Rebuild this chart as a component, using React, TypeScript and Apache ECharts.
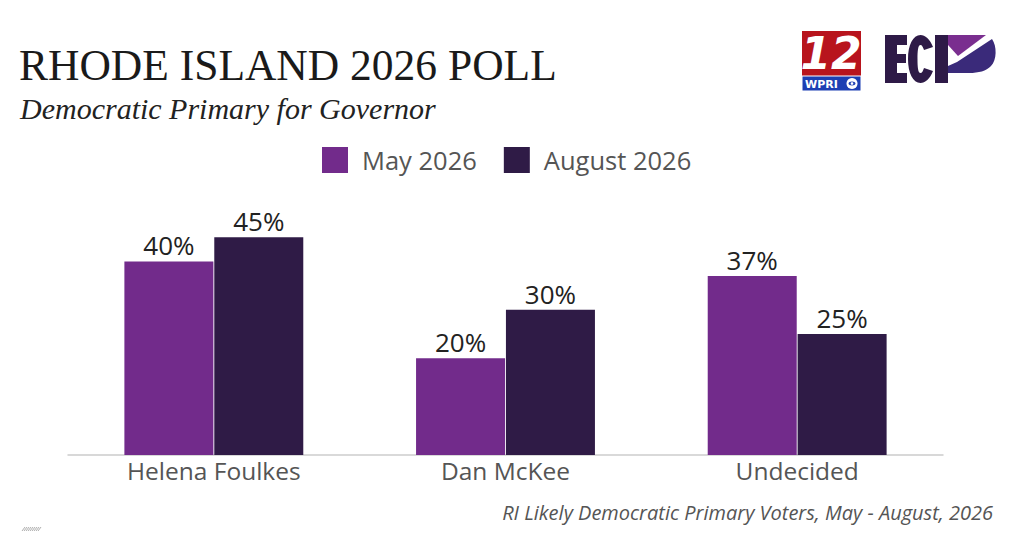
import React, { useEffect, useRef } from "react";
import * as echarts from "echarts";

const categories = ["Helena Foulkes", "Dan McKee", "Undecided"];
const seriesNames = ["May 2026", "August 2026"];
const mayValues = [40, 20, 37];
const augustValues = [45, 30, 25];
const seriesColors = ["#722b8b", "#2f1b46"];

const titleText = "RHODE ISLAND 2026 POLL";
const subtitleText = "Democratic Primary for Governor";
const footnoteText = "RI Likely Democratic Primary Voters, May - August, 2026";

const SANS = "'Open Sans', Lato, 'Noto Sans', sans-serif";
const SERIF = "'Liberation Serif', 'DejaVu Serif', serif";

let registered = false;
function registerShapes() {
  if (registered) return;
  registered = true;
  echarts.graphic.registerShape(
    "ecpC",
    echarts.graphic.extendPath(
      "M25,12 C22,4 17,0 12.5,0 C5,0 0,10 0,24 C0,38 5,48 12.5,48 C17,48 22,44 25,36 L16,33 C15,36 14,38 12.5,38 C10,38 9.5,32 9.5,24 C9.5,16 10,10 12.5,10 C14,10 15,12 16,15 Z",
      {}
    ) as any
  );
  echarts.graphic.registerShape(
    "ecpBowl",
    echarts.graphic.extendPath(
      "M21,27 L56,4 C61,11 61,25 55,31 C50,36 43,38 33,38 L12,38 L12,31 Z",
      {}
    ) as any
  );
}

export default function App() {
  const ref = useRef<HTMLDivElement>(null);

  useEffect(() => {
    if (!ref.current) return;
    registerShapes();
    const chart = echarts.init(ref.current, undefined, { renderer: "svg" });

    const hatch: any[] = [];
    for (let i = 0; i < 9; i++) {
      hatch.push({
        type: "line",
        shape: { x1: 22 + i * 2, y1: 531, x2: 25 + i * 2, y2: 527 },
        style: { stroke: "#9a9a9a", lineWidth: 0.8 },
        silent: true,
      });
    }

    const labelStyle = {
      show: true,
      position: "top",
      distance: 3,
      formatter: "{c}%",
      fontFamily: SANS,
      fontSize: 26,
      color: "#222222",
    };

    const option: any = {
      animation: false,
      backgroundColor: "#ffffff",
      grid: { left: 68, right: 81, top: 213, bottom: 79 },
      legend: {
        data: seriesNames,
        left: 322,
        top: 147,
        padding: 0,
        itemWidth: 26,
        itemHeight: 26,
        itemGap: 27,
        icon: "rect",
        textStyle: {
          fontFamily: SANS,
          fontSize: 25.5,
          color: "#555555",
          padding: [0, 0, 0, 9],
        },
      },
      xAxis: {
        type: "category",
        data: categories,
        axisLine: { show: true, lineStyle: { color: "#cccccc", width: 1.5 } },
        axisTick: { show: false },
        axisLabel: {
          color: "#555555",
          fontFamily: SANS,
          fontSize: 24.5,
          margin: 3,
        },
      },
      yAxis: {
        type: "value",
        min: 0,
        max: 50,
        show: false,
        splitLine: { show: false },
      },
      series: [
        {
          name: seriesNames[0],
          type: "bar",
          data: mayValues,
          barWidth: 89,
          barGap: "1%",
          itemStyle: { color: seriesColors[0] },
          label: labelStyle,
        },
        {
          name: seriesNames[1],
          type: "bar",
          data: augustValues,
          barWidth: 89,
          barGap: "1%",
          itemStyle: { color: seriesColors[1] },
          label: labelStyle,
        },
      ],
      graphic: [
        {
          type: "text",
          x: 19,
          y: 65,
          style: {
            text: titleText,
            fontFamily: SERIF,
            fontSize: 43.5,
            fill: "#1a1a1a",
            align: "left",
            verticalAlign: "middle",
          },
        },
        {
          type: "text",
          x: 20,
          y: 108,
          style: {
            text: subtitleText,
            fontFamily: SERIF,
            fontStyle: "italic",
            fontSize: 30,
            fill: "#222222",
            align: "left",
            verticalAlign: "middle",
          },
        },
        {
          type: "text",
          x: 993,
          y: 512,
          style: {
            text: footnoteText,
            fontFamily: SANS,
            fontStyle: "italic",
            fontSize: 20,
            fill: "#555555",
            align: "right",
            verticalAlign: "middle",
          },
        },
        ...hatch,
        // WPRI logo
        {
          type: "rect",
          shape: { x: 802, y: 31, width: 59, height: 45 },
          style: { fill: "#b8141d" },
        },
        {
          type: "text",
          x: 831,
          y: 53,
          style: {
            text: "12",
            fontFamily: "'DejaVu Sans', sans-serif",
            fontStyle: "italic",
            fontWeight: 900,
            fontSize: 44,
            fill: "#ffffff",
            align: "center",
            verticalAlign: "middle",
          },
        },
        {
          type: "rect",
          shape: { x: 802, y: 76, width: 59, height: 15 },
          style: { fill: "#1d3fb3", stroke: "#ffffff", lineWidth: 1 },
        },
        {
          type: "text",
          x: 805,
          y: 84,
          style: {
            text: "WPRI",
            fontFamily: "'DejaVu Sans', sans-serif",
            fontWeight: "bold",
            fontSize: 11,
            fill: "#ffffff",
            align: "left",
            verticalAlign: "middle",
          },
        },
        {
          type: "circle",
          shape: { cx: 852, cy: 83.5, r: 5.5 },
          style: { fill: "#ffffff" },
        },
        {
          type: "ellipse",
          shape: { cx: 852, cy: 83.5, rx: 3.5, ry: 2 },
          style: { fill: "#1d3fb3" },
        },
        {
          type: "circle",
          shape: { cx: 852, cy: 83.5, r: 1.3 },
          style: { fill: "#ffffff" },
        },
        // ECP logo
        {
          type: "polygon",
          shape: {
            points: [
              [885, 35], [907, 35], [907, 45], [897, 45], [897, 54], [906, 54],
              [906, 63], [897, 63], [897, 73], [907, 73], [907, 83], [885, 83],
            ],
          },
          style: { fill: "#2e1a47" },
        },
        {
          type: "ecpC",
          x: 908,
          y: 35,
          style: { fill: "#2e1a47" },
        },
        {
          type: "rect",
          shape: { x: 935, y: 35, width: 13, height: 48 },
          style: { fill: "#2e1a47" },
        },
        {
          type: "polygon",
          shape: { points: [[948, 35], [986, 35], [958, 56], [948, 45]] },
          style: { fill: "#7a2e8f" },
        },
        {
          type: "ecpBowl",
          x: 936,
          y: 35,
          style: { fill: "#3a2a7a" },
        },
      ],
    };

    chart.setOption(option);
    return () => chart.dispose();
  }, []);

  return (
    <div
      ref={ref}
      style={{ position: "absolute", left: 0, top: 0, width: 1024, height: 534 }}
    />
  );
}
